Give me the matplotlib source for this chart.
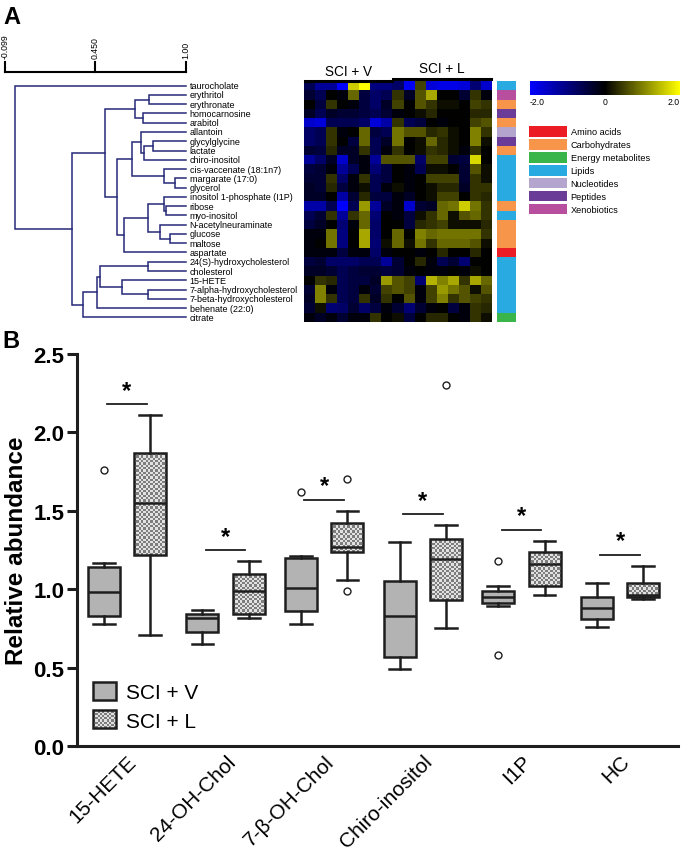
import numpy as np
import matplotlib
matplotlib.use("Agg")
import matplotlib.pyplot as plt
from matplotlib.colors import LinearSegmentedColormap, ListedColormap
from matplotlib.patches import Patch, Rectangle
from matplotlib.legend_handler import HandlerBase

plt.rcParams['font.family'] = ['Liberation Sans', 'DejaVu Sans']

W, H = 683, 853

# ---------------- panel A data ----------------
metabolites = ["taurocholate", "erythritol", "erythronate", "homocarnosine", "arabitol",
               "allantoin", "glycylglycine", "lactate", "chiro-inositol",
               "cis-vaccenate (18:1n7)", "margarate (17:0)", "glycerol",
               "inositol 1-phosphate (I1P)", "ribose", "myo-inositol",
               "N-acetylneuraminate", "glucose", "maltose", "aspartate",
               "24(S)-hydroxycholesterol", "cholesterol", "15-HETE",
               "7-alpha-hydroxycholesterol", "7-beta-hydroxycholesterol",
               "behenate (22:0)", "citrate"]

class_names = ["Amino acids", "Carbohydrates", "Energy metabolites", "Lipids",
               "Nucleotides", "Peptides", "Xenobiotics"]
class_colors = ["#ec1c24", "#f7964a", "#39b54a", "#29aae1", "#b4a5cf", "#6a3c98", "#b84f9e"]
metabolite_class = [3, 6, 1, 5, 1, 4, 5, 1, 3, 3, 3, 3, 3, 1, 3, 1, 1, 1, 0,
                    3, 3, 3, 3, 3, 3, 2]

# merges: (left, right, similarity); ids >= 26 are earlier merges
linkage = [(1, 2, 0.775), (3, 4, 0.739), (26, 27, 0.690),
           (6, 7, 0.800), (29, 8, 0.745), (5, 30, 0.727),
           (10, 11, 0.933), (9, 32, 0.866), (31, 33, 0.672),
           (13, 14, 0.879), (12, 35, 0.866), (16, 17, 0.903), (15, 37, 0.842),
           (36, 38, 0.769), (39, 18, 0.624), (34, 40, 0.581), (28, 41, 0.508),
           (19, 20, 0.769), (22, 23, 0.769), (21, 44, 0.611), (43, 45, 0.478),
           (46, 24, 0.460), (47, 25, 0.375), (42, 48, 0.308), (0, 49, -0.038)]

scale_ticks = [-0.099, 0.450, 1.00]
scale_labels = ["-0.099", "0.450", "1.00"]

groups = ["SCI + V", "SCI + L"]
group_sizes = [8, 9]

heat = np.array([
    [-0.65, -1.2, -1.2, -2.0, 1.6, 2.0, -1.0, -1.0, -0.8, -1.9, 0.5, -1.7, -1.8, -1.8, -1.7, -0.9, -1.6],
    [-0.4, -0.65, 0.0, -0.1, 0.8, -0.5, -0.8, -0.65, 0.4, -0.3, 0.65, 1.3, 0.0, 0.0, -0.4, 0.4, -0.1],
    [0.0, -0.5, 0.4, 0.0, -0.1, -0.5, -0.8, -0.3, 0.5, 0.0, 0.65, 0.4, 0.1, 0.1, 0.0, 0.5, 0.4],
    [-0.3, -0.65, -0.3, -0.4, -0.4, -0.5, -0.65, -0.4, -0.1, 0.0, 0.1, 0.3, 0.0, 0.0, 0.0, 0.3, 0.3],
    [-1.6, -1.7, -0.65, -0.65, -0.65, -0.8, -1.7, -1.3, 0.4, -0.65, -0.5, 0.0, -0.1, 0.0, 0.0, 0.5, 0.65],
    [-0.8, -0.65, 0.4, -0.1, 0.0, 0.8, -0.5, -0.65, 0.9, 0.65, 0.65, 0.3, 0.4, 0.1, 0.0, 1.0, 0.4],
    [-0.8, -0.65, 0.4, 0.0, -0.5, 0.8, -0.65, -0.3, 0.9, 0.0, 0.1, 0.8, 0.3, 0.1, 0.0, 1.0, 0.1],
    [-0.4, -0.5, 0.3, -0.3, -0.3, 0.4, -0.65, -0.1, 0.4, 0.0, 0.1, 0.4, 0.3, 0.1, -0.1, 0.4, 0.0],
    [-1.2, -0.8, -0.3, -1.6, -0.3, -0.1, -1.2, 0.65, 0.65, 0.65, -0.8, 0.5, 0.5, -0.4, -0.5, 1.7, 0.0],
    [-0.5, -0.4, -0.1, -1.2, -0.65, -0.1, -0.9, -0.5, 0.0, -0.1, -0.65, 0.1, 0.1, 0.0, -0.4, 0.65, 0.1],
    [-0.4, -0.4, 0.4, -0.8, -0.1, 0.4, -0.65, -0.5, 0.0, -0.1, 0.0, 0.5, 0.5, 0.5, -0.4, 0.4, 0.1],
    [-0.3, -0.4, 0.3, -0.5, -0.1, 0.1, -0.65, -0.1, 0.1, -0.1, 0.0, 0.1, 0.3, 0.3, -0.3, 0.4, 0.4],
    [-0.3, -0.3, 0.0, -1.3, -0.4, 0.3, -0.5, -0.5, -0.1, -0.3, 0.0, 0.1, 0.5, 0.5, 0.0, 0.4, 0.3],
    [-1.3, -1.3, -0.65, -2.0, -0.65, 1.2, -1.2, -0.3, -0.1, -1.6, -0.4, -0.3, 0.8, 0.9, 1.6, 0.9, 0.4],
    [-0.65, -0.4, 0.4, -1.2, 0.4, 0.8, -0.9, 0.0, -0.1, -0.5, 0.1, 0.4, 0.8, 0.1, 0.65, 0.8, 0.4],
    [-0.5, -0.3, 0.0, -0.9, -0.1, 0.8, -0.8, 0.0, 0.0, -0.5, 0.3, 0.4, 0.5, 0.1, 0.1, 0.1, 0.3],
    [-0.1, -0.1, 0.9, -1.0, 0.0, 1.3, -0.8, 0.0, 0.8, 0.0, 1.0, 0.8, 0.9, 0.9, 0.9, 0.9, 0.4],
    [-0.1, 0.0, 0.9, -1.0, 0.0, 1.3, -0.9, 0.1, 0.8, 0.1, 0.9, 0.4, 0.8, 0.8, 0.8, 0.65, 0.1],
    [-0.1, -0.1, -0.1, -0.5, -0.1, -0.1, -0.8, -0.1, 0.0, 0.0, -0.1, 0.0, 0.3, 0.0, 0.0, 0.3, 0.0],
    [-0.5, -0.4, -0.8, -0.8, -0.8, -0.65, -0.65, -1.2, -0.4, 0.0, 0.3, -0.1, -0.65, -0.4, -0.9, 0.0, 0.0],
    [-0.3, -0.3, -0.4, -0.65, -0.5, -0.4, -0.4, -0.5, -0.4, -0.1, 0.0, -0.1, -0.1, 0.0, -0.1, 0.1, 0.0],
    [0.0, 0.4, 0.3, -0.65, -0.5, -0.5, -0.3, 1.2, 0.65, 0.5, -0.9, 1.4, 1.0, 1.3, 0.4, 1.3, 0.8],
    [-0.4, 1.0, -0.1, -0.65, -0.5, -0.1, -0.4, 0.5, 0.65, 0.5, -0.1, 0.5, 1.2, 0.9, 0.65, 0.1, 0.65],
    [-0.3, 1.0, 0.4, -0.65, -0.5, 0.4, -0.3, 0.4, 0.0, 0.65, -0.1, 0.5, 1.0, 0.4, 0.65, 0.5, 0.4],
    [-0.4, 0.1, -0.9, -0.8, -0.4, -0.8, -0.5, -0.1, -0.4, -0.9, -0.4, -0.1, 0.0, -0.5, -0.1, 0.4, 0.3],
    [-0.1, -0.3, -0.1, -0.4, -0.1, -0.1, 0.4, 0.0, 0.1, -0.5, 0.0, 0.3, 0.3, 0.0, -0.1, 0.4, 0.1],
])

# ---------------- panel B data ----------------
categories = ["15-HETE", "24-OH-Chol", "7-β-OH-Chol", "Chiro-inositol", "I1P", "HC"]

v_whislo = [0.78, 0.65, 0.775, 0.49, 0.89, 0.76]
v_q1 = [0.83, 0.73, 0.86, 0.57, 0.91, 0.81]
v_med = [0.98, 0.815, 1.01, 0.83, 0.95, 0.88]
v_q3 = [1.14, 0.84, 1.20, 1.05, 0.99, 0.95]
v_whishi = [1.17, 0.87, 1.21, 1.30, 1.02, 1.04]
v_fliers = [[1.76], [], [1.62], [], [1.18, 0.58], []]

l_whislo = [0.71, 0.815, 1.06, 0.75, 0.96, 0.94]
l_q1 = [1.22, 0.84, 1.24, 0.93, 1.02, 0.95]
l_med = [1.55, 0.99, 1.27, 1.19, 1.16, 0.96]
l_q3 = [1.87, 1.10, 1.42, 1.32, 1.24, 1.04]
l_whishi = [2.11, 1.18, 1.50, 1.41, 1.31, 1.15]
l_fliers = [[], [], [1.70, 0.99], [2.30], [], []]

sig_y = [2.18, 1.25, 1.57, 1.48, 1.38, 1.22]

V_COLOR = "#b3b3b3"
CHK_LIGHT = "#e2e2e2"
CHK_DARK = "#7d7d7d"
EDGE = "#1e1e1e"
DENDRO = "#262a78"


def px_axes(fig, x0, y0, x1, y1):
    return fig.add_axes([x0 / W, 1 - y1 / H, (x1 - x0) / W, (y1 - y0) / H])


fig = plt.figure(figsize=(W / 100, H / 100), dpi=100)

# ---- dendrogram ----
n = len(metabolites)
axd = px_axes(fig, 5, 82, 186, 323)
axd.set_xlim(-0.099, 1.0)
axd.set_ylim(n, 0)
axd.axis("off")
pos = {i: (1.0, i + 0.5) for i in range(n)}
for k, (a, b, h) in enumerate(linkage):
    xa, ya = pos[a]
    xb, yb = pos[b]
    axd.plot([xa, h, h, xb], [ya, ya, yb, yb], color=DENDRO, lw=1.1,
             solid_joinstyle="miter", clip_on=False)
    pos[n + k] = (h, (ya + yb) / 2)
for i, name in enumerate(metabolites):
    axd.text(1.022, i + 0.5, name, fontsize=6.5, va="center", ha="left")
# similarity scale bar
bar_y, tick_top = -0.97, -2.0
axd.plot([scale_ticks[0], scale_ticks[-1]], [bar_y, bar_y], color="black", lw=1.5, clip_on=False)
for t, lab in zip(scale_ticks, scale_labels):
    axd.plot([t, t], [bar_y, tick_top], color="black", lw=1.5, clip_on=False)
    axd.text(t, -2.45, lab, rotation=90, fontsize=6.3, ha="center", va="bottom")
axd.set_xlim(-0.099, 1.0)
axd.set_ylim(n, 0)

# ---- heatmap ----
cmap = LinearSegmentedColormap.from_list("byk", ["#0000ff", "#000000", "#ffff00"])
axh = px_axes(fig, 304, 82, 492, 323)
im = axh.imshow(heat, cmap=cmap, vmin=-2, vmax=2, aspect="auto", interpolation="nearest")
axh.axis("off")
start = -0.5
for gi, (g, size) in enumerate(zip(groups, group_sizes)):
    yl = -0.45 if gi == 0 else -0.75
    axh.plot([start + 0.05, start + size - 0.05], [yl, yl], color="black", lw=2.2, clip_on=False)
    axh.text(start + size / 2, yl - 0.4, g, fontsize=9.8, ha="center", va="bottom")
    start += size
axh.set_xlim(-0.5, heat.shape[1] - 0.5)
axh.set_ylim(heat.shape[0] - 0.5, -0.5)

# ---- class bar ----
axc = px_axes(fig, 497, 82, 516, 323)
axc.imshow(np.array(metabolite_class)[:, None], cmap=ListedColormap(class_colors),
           vmin=-0.5, vmax=len(class_colors) - 0.5, aspect="auto", interpolation="nearest")
axc.axis("off")

# ---- colour scale ----
axcb = px_axes(fig, 530, 82, 680, 96)
cb = fig.colorbar(im, cax=axcb, orientation="horizontal", ticks=[-2, 0, 2])
cb.outline.set_visible(False)
cb.ax.set_xticklabels(["-2.0", "0", "2.0"])
cb.ax.tick_params(length=0, labelsize=6.2, pad=1.5)
tl = cb.ax.get_xticklabels()
tl[0].set_ha("left")
tl[-1].set_ha("right")

# ---- class legend ----
handles = [Patch(facecolor=c, edgecolor="none") for c in class_colors]
fig.legend(handles, class_names, loc="upper left", bbox_to_anchor=(529 / W, 1 - 127 / H),
           frameon=False, fontsize=6.6, handlelength=4.1, handleheight=1.4,
           labelspacing=0.26, handletextpad=0.45, borderpad=0, borderaxespad=0)

fig.text(3 / W, 1 - 6 / H, "A", fontsize=17, fontweight="bold", va="top", ha="left")
fig.text(2 / W, 1 - 330 / H, "B", fontsize=17, fontweight="bold", va="top", ha="left")

# ---------------- panel B ----------------
axb = px_axes(fig, 77, 355, 678, 747)
xs = np.arange(len(categories))
off, bw = 0.235, 0.325


def make_stats(lo, q1, med, q3, hi, fl):
    return [dict(whislo=a, q1=b, med=c, q3=d, whishi=e, fliers=f)
            for a, b, c, d, e, f in zip(lo, q1, med, q3, hi, fl)]


lw = 1.8
common = dict(widths=bw, patch_artist=True, capwidths=0.22, manage_ticks=False,
              boxprops=dict(edgecolor=EDGE, linewidth=lw),
              whiskerprops=dict(color=EDGE, linewidth=lw),
              capprops=dict(color=EDGE, linewidth=lw),
              medianprops=dict(color=EDGE, linewidth=lw),
              flierprops=dict(marker="o", markerfacecolor="none", markeredgecolor=EDGE,
                              markersize=5, markeredgewidth=1.0))
bv = axb.bxp(make_stats(v_whislo, v_q1, v_med, v_q3, v_whishi, v_fliers),
             positions=xs - off, **common)
bl = axb.bxp(make_stats(l_whislo, l_q1, l_med, l_q3, l_whishi, l_fliers),
             positions=xs + off, **common)
for b in bv["boxes"]:
    b.set_facecolor(V_COLOR)

# checker texture for the SCI + L boxes
px_x = 601 / (5.588 + 0.507)
px_y = 392 / 2.5
cell = 2.3
chk_cmap = ListedColormap([CHK_LIGHT, CHK_DARK])
for b, x, q1, q3 in zip(bl["boxes"], xs + off, l_q1, l_q3):
    b.set_facecolor("none")
    b.set_zorder(3)
    nx = max(int(round(bw * px_x / cell)), 1)
    ny = max(int(round((q3 - q1) * px_y / cell)), 1)
    yy, xx = np.indices((ny, nx))
    img = axb.imshow((xx + yy) % 2, cmap=chk_cmap, vmin=0, vmax=1, aspect="auto",
                     interpolation="nearest", origin="lower",
                     extent=[x - bw / 2, x + bw / 2, q1, q3], zorder=1.5)
    img.set_clip_path(b)
for m in bl["medians"]:
    m.set_zorder(3.5)

for x, y in zip(xs, sig_y):
    axb.plot([x - 0.2, x + 0.2], [y, y], color=EDGE, lw=1.3)
    axb.text(x, y + 0.015, "*", fontsize=17, fontweight="bold", ha="center", va="bottom")

axb.set_xlim(-0.507, 5.588)
axb.set_ylim(0, 2.5)
axb.set_aspect("auto")
axb.spines["top"].set_visible(False)
axb.spines["right"].set_visible(False)
for s in ("left", "bottom"):
    axb.spines[s].set_linewidth(2.2)
    axb.spines[s].set_color(EDGE)
axb.set_yticks([0, 0.5, 1.0, 1.5, 2.0, 2.5])
axb.set_yticklabels(["0.0", "0.5", "1.0", "1.5", "2.0", "2.5"], fontsize=16, fontweight="bold")
axb.tick_params(axis="y", length=7, width=2.2, color=EDGE, pad=2)
axb.set_xticks(xs)
axb.set_xticklabels(categories, rotation=45, ha="right", rotation_mode="anchor", fontsize=15)
axb.tick_params(axis="x", length=0, pad=4)
axb.set_ylabel("Relative abundance", fontsize=17.5, fontweight="bold", labelpad=4)


class CheckerHandler(HandlerBase):
    def create_artists(self, legend, orig_handle, xdescent, ydescent, width, height, fontsize, trans):
        arts = []
        nx, ny = 10, 8
        sx, sy = width / nx, height / ny
        for i in range(nx):
            for j in range(ny):
                c = CHK_DARK if (i + j) % 2 else CHK_LIGHT
                arts.append(Rectangle((-xdescent + i * sx, -ydescent + j * sy), sx, sy,
                                      facecolor=c, edgecolor="none", transform=trans))
        arts.append(Rectangle((-xdescent, -ydescent), width, height, facecolor="none",
                              edgecolor=EDGE, lw=lw, transform=trans))
        return arts


class _Chk:
    pass


leg = axb.legend([Patch(facecolor=V_COLOR, edgecolor=EDGE, lw=lw), _Chk()], groups,
                 handler_map={_Chk: CheckerHandler()},
                 loc="upper left", bbox_to_anchor=(93 / W, 1 - 683 / H),
                 bbox_transform=fig.transFigure, frameon=False, fontsize=15,
                 handlelength=1.1, handleheight=0.95, labelspacing=0.4,
                 handletextpad=0.5, borderpad=0, borderaxespad=0)

fig.savefig("out.png", dpi=100)
